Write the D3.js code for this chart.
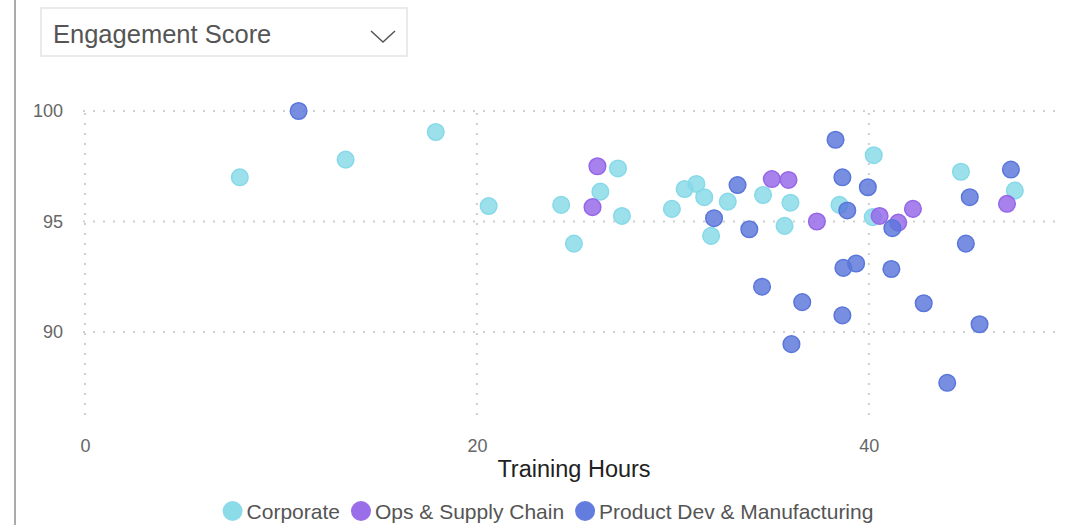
<!DOCTYPE html>
<html>
<head>
<meta charset="utf-8">
<script src="https://cdn.jsdelivr.net/npm/d3@7"></script>
<style>
  html, body { margin: 0; padding: 0; background: #fff; }
  svg { display: block; font-family: "Liberation Sans", Arial, sans-serif; }
</style>
</head>
<body>
<svg id="chart" width="1075" height="525"></svg>
<script>
// ---- data ----
const categories = ["Corporate", "Ops & Supply Chain", "Product Dev & Manufacturing"];
const colors = ["#86d9e8", "#9566e8", "#5a76db"];

const corporateHours  = [7.9, 13.3, 17.9, 20.6, 24.3, 24.95, 26.3, 27.2, 27.4, 29.95, 30.6, 31.2, 31.6, 31.95, 32.8, 34.6, 35.7, 36.0, 38.5, 40.25, 40.2, 44.7, 47.45];
const corporateScores = [97.0, 97.8, 99.05, 95.7, 95.75, 94.0, 96.35, 97.4, 95.25, 95.57, 96.47, 96.7, 96.1, 94.35, 95.9, 96.2, 94.8, 95.85, 95.75, 98.0, 95.2, 97.25, 96.4];

const opsHours  = [26.15, 25.9, 35.05, 35.9, 37.35, 40.55, 41.5, 42.25, 47.05];
const opsScores = [97.5, 95.65, 96.92, 96.88, 95.0, 95.25, 94.95, 95.57, 95.8];

const prodHours  = [10.9, 33.3, 32.1, 33.9, 38.65, 38.3, 38.9, 39.95, 41.2, 45.15, 47.25, 44.95, 39.35, 38.7, 41.15, 34.55, 36.6, 38.65, 42.8, 45.65, 36.05, 44.0];
const prodScores = [100.0, 96.65, 95.15, 94.65, 97.0, 98.7, 95.5, 96.55, 94.7, 96.1, 97.35, 94.0, 93.1, 92.9, 92.85, 92.05, 91.35, 90.75, 91.3, 90.35, 89.45, 87.7];

const xTicks = [0, 20, 40];
const yTicks = [90, 95, 100];
const xDomain = [0, 49.5];
const yDomain = [85.9, 100];
const yLabel = "Engagement Score";
const xLabel = "Training Hours";

const series = [
  { name: categories[0], color: colors[0], hours: corporateHours, scores: corporateScores },
  { name: categories[1], color: colors[1], hours: opsHours, scores: opsScores },
  { name: categories[2], color: colors[2], hours: prodHours, scores: prodScores }
];

// ---- drawing ----
const svg = d3.select("#chart");

// left border line
svg.append("line").attr("x1", 15).attr("x2", 15).attr("y1", 0).attr("y2", 525)
  .attr("stroke", "#aaaaaa").attr("stroke-width", 2);

// dropdown
const dd = svg.append("g");
dd.append("rect").attr("x", 41).attr("y", 8).attr("width", 366).attr("height", 48)
  .attr("fill", "#fff").attr("stroke", "#e3e3e3").attr("stroke-width", 1.5);
dd.append("text").attr("x", 53).attr("y", 43).attr("font-size", 25.5).attr("fill", "#555")
  .text(yLabel);
dd.append("polyline").attr("points", "371,31 383,42 395,31")
  .attr("fill", "none").attr("stroke", "#555").attr("stroke-width", 1.5);

const x = d3.scaleLinear().domain(xDomain).range([85, 1055]);
const y = d3.scaleLinear().domain(yDomain).range([422.6, 111]);

// grid
const grid = svg.append("g");
grid.selectAll(".hg").data(yTicks).join("line")
  .attr("x1", 83).attr("x2", x(xDomain[1]))
  .attr("y1", d => y(d)).attr("y2", d => y(d))
  .attr("stroke", "#cfcfcf").attr("stroke-width", 2).attr("stroke-dasharray", "2,8");
grid.selectAll(".vg").data(xTicks).join("line")
  .attr("x1", d => x(d)).attr("x2", d => x(d))
  .attr("y1", y(yDomain[1]) + 2).attr("y2", y(yDomain[0]))
  .attr("stroke", "#cfcfcf").attr("stroke-width", 2).attr("stroke-dasharray", "2,8");

// axes (labels only)
const yAxis = svg.append("g").attr("transform", "translate(69,0)")
  .call(d3.axisLeft(y).tickValues(yTicks).tickSize(0).tickPadding(6));
yAxis.select(".domain").remove();
yAxis.selectAll("text").attr("font-size", 18).attr("fill", "#666")
  .attr("font-family", "'Liberation Sans', Arial, sans-serif");

const xAxis = svg.append("g").attr("transform", "translate(0,433)")
  .call(d3.axisBottom(x).tickValues(xTicks).tickSize(0).tickPadding(6));
xAxis.select(".domain").remove();
xAxis.selectAll("text").attr("font-size", 18).attr("fill", "#666")
  .attr("font-family", "'Liberation Sans', Arial, sans-serif");

svg.append("text").attr("x", 574).attr("y", 477).attr("text-anchor", "middle")
  .attr("font-size", 23.5).attr("fill", "#222").text(xLabel);

// points
series.forEach(s => {
  const pts = s.hours.map((h, i) => [h, s.scores[i]]);
  svg.append("g").selectAll("circle").data(pts).join("circle")
    .attr("cx", d => x(d[0])).attr("cy", d => y(d[1])).attr("r", 8.3)
    .attr("fill", s.color).attr("fill-opacity", 0.82)
    .attr("stroke", s.color).attr("stroke-width", 1.5);
});

// legend
const legend = svg.append("g");
let cx = 0;
series.forEach(s => {
  const g = legend.append("g").attr("transform", `translate(${cx},0)`);
  g.append("circle").attr("cx", 10).attr("cy", 0).attr("r", 10).attr("fill", s.color).attr("fill-opacity", 0.95);
  const t = g.append("text").attr("x", 24).attr("y", 7.5).attr("font-size", 21).attr("fill", "#555").text(s.name);
  const w = t.node().getComputedTextLength();
  cx += 24 + w + 11;
});
const totalW = cx - 11;
legend.attr("transform", `translate(${548 - totalW / 2},511)`);
</script>
</body>
</html>
